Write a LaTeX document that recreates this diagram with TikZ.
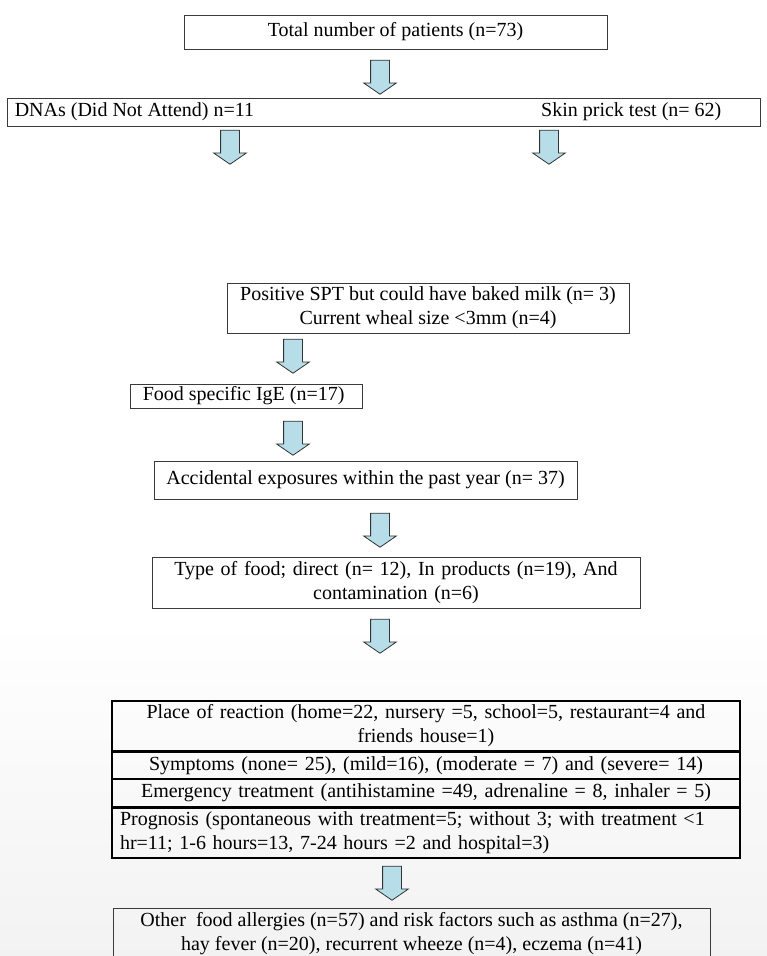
\documentclass[tikz,border=0pt]{standalone}
\usepackage{fontspec}
\setmainfont{Liberation Serif}
\usetikzlibrary{shapes.arrows}
\definecolor{arrowblue}{HTML}{B7DEE8}
\definecolor{boxline}{HTML}{3A3A3A}
\newcommand{\shaftw}{\rule{0pt}{18pt}}
\begin{document}
\begin{tikzpicture}[x=1pt,y=-1pt,
  font=\fontsize{20}{24}\selectfont,
  box/.style={draw=boxline, line width=0.9pt, inner sep=0pt, align=center},
  rowbox/.style={draw=black, line width=1.3pt, inner sep=0pt, minimum width=628pt, text width=612pt, align=center},
  plain/.style={inner sep=0pt},
  downarrow/.style={single arrow, rotate=-90, draw=black!80, fill=arrowblue, line width=0.8pt,
    minimum height=34pt, single arrow head extend=7pt,
    single arrow tip angle=111, inner sep=0pt}
]
\useasboundingbox (0,0) rectangle (767,956);
\clip (0,0) rectangle (767,956);
\shade[top color=white, bottom color=black!5] (0,620) rectangle (767,956);

% top box
\node[box, minimum width=423pt, minimum height=34pt] (b1) at (395.5,32) {Total number of patients (n=73)};
\node[downarrow] (a1) at (380,74) {\shaftw};

% split box
\node[box, minimum width=753pt, minimum height=28pt] (b2) at (383.5,112) {};
\node[plain, anchor=west] (dna) at ([xshift=8pt]b2.west) {DNAs (Did Not Attend) n=11};
\node[plain, anchor=west] (spt) at (541,112) {Skin prick test (n= 62)};
\node[downarrow] (a2) at (230,144) {\shaftw};
\node[downarrow] (a3) at (549,144) {\shaftw};

% positive SPT
\node[box, minimum width=402pt, minimum height=50pt] (b3) at (428,308) {Positive SPT but could have baked milk (n= 3)\\Current wheal size <3mm (n=4)};
\node[downarrow] (a4) at (293,353) {\shaftw};

% food specific IgE
\node[box, minimum width=232pt, minimum height=24pt] (b4) at (246,396) {};
\node[plain, anchor=west] (b4t) at ([xshift=13pt]b4.west) {Food specific IgE (n=17)};
\node[downarrow] (a5) at (293,435) {\shaftw};

% accidental exposures
\node[box, minimum width=423pt, minimum height=38pt] (b5) at (365.5,480) {Accidental exposures within the past year (n= 37)};
\node[downarrow] (a6) at (380,527) {\shaftw};

% type of food
\node[box, minimum width=488pt, minimum height=51pt, text width=470pt] (b6) at (396,582.5) {Type of food; direct (n= 12), In products (n=19), And\\contamination (n=6)};
\node[downarrow] (a7) at (380,633) {\shaftw};

% table
\node[rowbox, minimum height=50pt] (r1) at (426,726) {Place of reaction (home=22, nursery =5, school=5, restaurant=4 and\\friends house=1)};
\node[rowbox, minimum height=26pt, anchor=north] (r2) at (r1.south) {Symptoms (none= 25), (mild=16), (moderate = 7) and (severe= 14)};
\node[rowbox, minimum height=27pt, anchor=north] (r3) at (r2.south) {Emergency treatment (antihistamine =49, adrenaline = 8, inhaler = 5)};
\node[rowbox, minimum height=50pt, anchor=north, align=left] (r4) at (r3.south) {Prognosis (spontaneous with treatment=5; without 3; with treatment <1\\hr=11; 1-6 hours=13, 7-24 hours =2 and hospital=3)};
\node[downarrow] (a8) at (392,880) {\shaftw};

% bottom box (cut off by page edge)
\node[box, minimum width=597pt, minimum height=70pt, anchor=north] (b7) at (411.5,908) {};
\node[plain, anchor=north, align=center] (b7t) at ([yshift=-4pt]b7.north) {Other\ \ food allergies (n=57) and risk factors such as asthma (n=27),\\hay fever (n=20), recurrent wheeze (n=4), eczema (n=41)};
\end{tikzpicture}
\end{document}
